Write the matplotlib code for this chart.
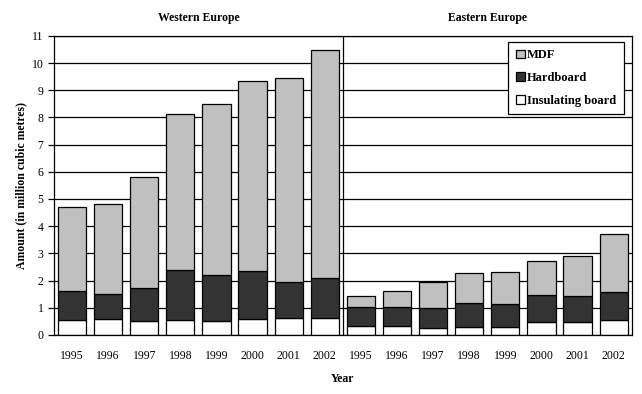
import numpy as np
import matplotlib.pyplot as plt
from matplotlib.transforms import blended_transform_factory

plt.rcParams['font.family'] = ['Liberation Serif', 'DejaVu Serif']

years = ['1995', '1996', '1997', '1998', '1999', '2000', '2001', '2002']
regions = ['Western Europe', 'Eastern Europe']

# values (cumulative tops per layer)
west_insulating = [0.54, 0.58, 0.50, 0.54, 0.50, 0.58, 0.61, 0.61]
west_hard_top = [1.61, 1.50, 1.72, 2.38, 2.20, 2.34, 1.94, 2.09]
west_total = [4.70, 4.81, 5.80, 8.12, 8.49, 9.34, 9.45, 10.48]

east_insulating = [0.32, 0.32, 0.25, 0.28, 0.28, 0.47, 0.47, 0.54]
east_hard_top = [1.02, 1.02, 0.98, 1.17, 1.13, 1.46, 1.42, 1.57]
east_total = [1.42, 1.61, 1.94, 2.27, 2.31, 2.71, 2.90, 3.71]

insulating = np.array(west_insulating + east_insulating)
hardboard = np.array(west_hard_top + east_hard_top) - insulating
mdf = np.array(west_total + east_total) - insulating - hardboard

x = np.arange(len(insulating))

fig = plt.figure(figsize=(6.42, 3.94), dpi=100)
ax = fig.add_axes([0.084, 0.150, 0.900, 0.759])

ax.set_axisbelow(True)
ax.yaxis.grid(True, color='black', lw=0.9)

w = 0.78
ax.bar(x, insulating, w, color='white', edgecolor='black', lw=0.9, label='Insulating board')
ax.bar(x, hardboard, w, bottom=insulating, color='#333333', edgecolor='black', lw=0.9, label='Hardboard')
ax.bar(x, mdf, w, bottom=insulating + hardboard, color='#c0c0c0', edgecolor='black', lw=0.9, label='MDF')

ax.axvline(7.5, color='black', lw=0.9)
ax.set_xlim(-0.5, 15.5)
ax.set_ylim(0, 11)
ax.set_yticks(range(0, 12))
ax.set_xticks(x)
ax.set_xticklabels(years * 2)
ax.tick_params(axis='x', length=0, labelsize=8.5, pad=11)
ax.tick_params(axis='y', length=4, labelsize=8.5, width=0.9)
for s in ax.spines.values():
    s.set_linewidth(0.9)

ax.set_xlabel('Year', fontsize=8.5, fontweight='bold', labelpad=8)
ax.set_ylabel('Amount (in million cubic metres)', fontsize=8.5, fontweight='bold', labelpad=3)

tr = blended_transform_factory(ax.transData, fig.transFigure)
ax.text(3.5, 0.955, regions[0], transform=tr, ha='center', va='center', fontsize=8.5, fontweight='bold')
ax.text(11.5, 0.955, regions[1], transform=tr, ha='center', va='center', fontsize=8.5, fontweight='bold')

h, l = ax.get_legend_handles_labels()
leg = ax.legend(h[::-1], l[::-1], loc='upper right', bbox_to_anchor=(0.986, 0.98),
                prop={'weight': 'bold', 'size': 9}, handlelength=0.7, handleheight=0.7,
                handletextpad=0.2, labelspacing=0.85, fancybox=False, framealpha=1,
                edgecolor='black', borderpad=0.6, borderaxespad=0)
leg.get_frame().set_linewidth(0.9)

fig.savefig('out.png', dpi=100)
